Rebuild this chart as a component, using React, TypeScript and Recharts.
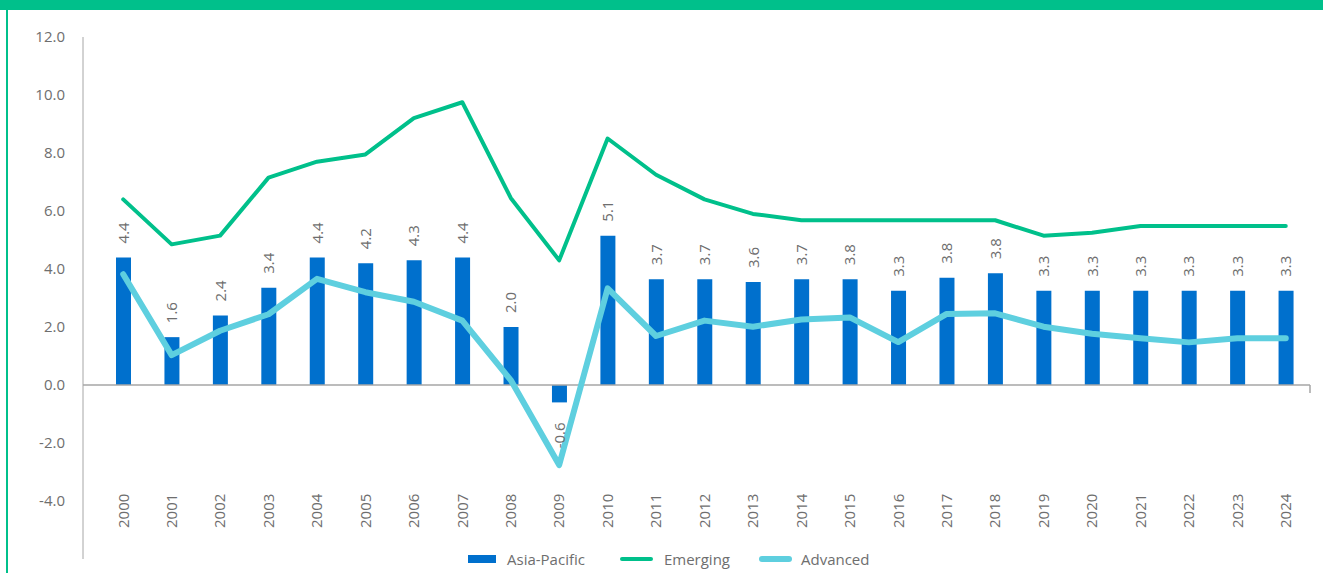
import React from 'react';
import { ComposedChart, Bar, Line, XAxis, YAxis, ReferenceLine, LabelList, Legend } from 'recharts';

const years = ['2000','2001','2002','2003','2004','2005','2006','2007','2008','2009','2010','2011','2012','2013','2014','2015','2016','2017','2018','2019','2020','2021','2022','2023','2024'];
const asiaPacific = [4.4,1.65,2.4,3.35,4.4,4.2,4.3,4.4,2.0,-0.6,5.15,3.65,3.65,3.55,3.65,3.65,3.25,3.7,3.85,3.25,3.25,3.25,3.25,3.25,3.25];
const asiaPacificLabels = ['4.4','1.6','2.4','3.4','4.4','4.2','4.3','4.4','2.0','-0.6','5.1','3.7','3.7','3.6','3.7','3.8','3.3','3.8','3.8','3.3','3.3','3.3','3.3','3.3','3.3'];
const emerging = [6.4,4.85,5.15,7.15,7.7,7.95,9.2,9.75,6.45,4.3,8.5,7.25,6.4,5.9,5.68,5.68,5.68,5.68,5.68,5.15,5.25,5.48,5.48,5.48,5.48];
const advanced = [3.82,1.03,1.87,2.44,3.66,3.2,2.87,2.22,0.17,-2.76,3.33,1.69,2.22,2.01,2.26,2.33,1.48,2.45,2.47,2.01,1.77,1.61,1.47,1.61,1.61];
const yTicks = [-4,-2,0,2,4,6,8,10,12];

const data = years.map((year, i) => ({
  year,
  ap: asiaPacific[i],
  apLabel: asiaPacificLabels[i],
  em: emerging[i],
  adv: advanced[i],
}));

const FONT = '"Open Sans", sans-serif';
const GREY = '#6E6E6E';
const BLUE = '#0070CD';
const GREEN = '#00C08B';
const LIGHT = '#5ECFDF';
const AXIS = '#A6A6A6';

const BarLabel = (props: any) => {
  const { x, y, width, height, index } = props;
  const v = asiaPacific[index];
  const text = asiaPacificLabels[index];
  const cx = x + width / 2;
  const top = Math.min(y, y + height);
  const bottom = Math.max(y, y + height);
  if (v >= 0) {
    return (
      <text transform={`translate(${cx + 5.3},${top - 14}) rotate(-90)`} textAnchor="start" fontSize={15} fill={GREY} fontFamily={FONT}>
        {text}
      </text>
    );
  }
  return (
    <text transform={`translate(${cx + 5.3},${bottom + 20}) rotate(-90)`} textAnchor="end" fontSize={15} fill={GREY} fontFamily={FONT}>
      {text}
    </text>
  );
};

const XTick = (props: any) => {
  const { x, y, payload } = props;
  return (
    <text transform={`translate(${x + 5.3},${y - 31}) rotate(-90)`} textAnchor="start" fontSize={15} fill={GREY} fontFamily={FONT}>
      {payload.value}
    </text>
  );
};

const AxisEndTick = (props: any) => {
  const vb = props.viewBox || {};
  const xEnd = (vb.x || 0) + (vb.width || 0);
  const yy = vb.y || 0;
  return <line x1={xEnd} y1={yy} x2={xEnd} y2={yy + 8} stroke={AXIS} strokeWidth={1.5} />;
};

const LegendContent = () => (
  <div style={{ display: 'flex', alignItems: 'center', height: 20, fontFamily: FONT, fontSize: 15, color: GREY, whiteSpace: 'nowrap' }}>
    <span style={{ display: 'inline-block', width: 28, height: 8, background: BLUE, marginRight: 11 }} />
    <span style={{ marginRight: 35 }}>Asia-Pacific</span>
    <span style={{ display: 'inline-block', width: 33, height: 4, borderRadius: 2, background: GREEN, marginRight: 11 }} />
    <span style={{ marginRight: 29 }}>Emerging</span>
    <span style={{ display: 'inline-block', width: 33, height: 6, borderRadius: 3, background: LIGHT, marginRight: 9 }} />
    <span>Advanced</span>
  </div>
);

export default function App() {
  return (
    <div style={{ position: 'absolute', left: 0, top: 0, width: 1323, height: 573, background: '#fff', overflow: 'hidden' }}>
      <div style={{ position: 'absolute', left: 0, top: 0, width: 1323, height: 10, background: GREEN }} />
      <div style={{ position: 'absolute', left: 6, top: 10, width: 2, height: 563, background: GREEN }} />
      <div style={{ position: 'absolute', left: 0, top: 0 }}>
        <ComposedChart width={1323} height={573} data={data} margin={{ top: 37, right: 13, bottom: 0, left: 0 }}>
          <XAxis
            dataKey="year"
            height={14}
            axisLine={false}
            tickLine={false}
            tickSize={0}
            tickMargin={0}
            interval={0}
            padding={{ left: 16, right: 0 }}
            tick={<XTick />}
          />
          <YAxis
            width={83}
            domain={[-6, 12]}
            ticks={yTicks}
            allowDataOverflow
            axisLine={{ stroke: AXIS, strokeWidth: 1 }}
            tickLine={false}
            tickSize={0}
            tickMargin={18}
            tickFormatter={(v: number) => v.toFixed(1)}
            tick={{ fontSize: 15, fill: GREY, fontFamily: FONT }}
          />
          <ReferenceLine y={0} stroke={AXIS} strokeWidth={1.5} label={<AxisEndTick />} />
          <Bar dataKey="ap" name="Asia-Pacific" fill={BLUE} barSize={15} isAnimationActive={false}>
            <LabelList dataKey="ap" content={<BarLabel />} />
          </Bar>
          <Line dataKey="em" name="Emerging" stroke={GREEN} strokeWidth={4} dot={false} activeDot={false} strokeLinecap="round" strokeLinejoin="round" isAnimationActive={false} />
          <Line dataKey="adv" name="Advanced" stroke={LIGHT} strokeWidth={6} dot={false} activeDot={false} strokeLinecap="round" strokeLinejoin="round" isAnimationActive={false} />
          <Legend layout="horizontal" verticalAlign="middle" align="center" wrapperStyle={{ left: 468, top: 549, width: 460, height: 20 }} content={<LegendContent />} />
        </ComposedChart>
      </div>
    </div>
  );
}
